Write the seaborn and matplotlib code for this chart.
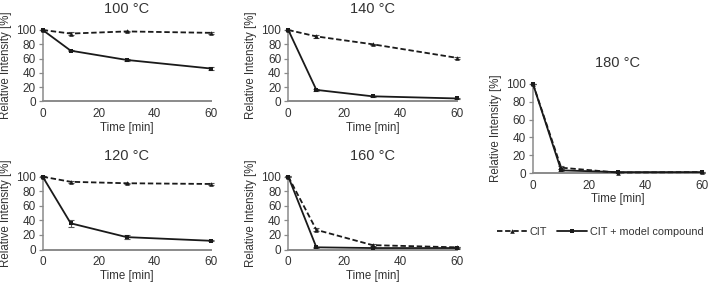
import numpy as np
import pandas as pd
import seaborn as sns
from matplotlib import pyplot as plt

# sampling times [min]
times = [0, 10, 30, 60]
series = ['CIT', 'CIT + model compound']
temps = ['100 °C', '120 °C', '140 °C', '160 °C', '180 °C']

# relative intensity [%]
cit = {
    '100 °C': [100, 95, 98, 96],
    '120 °C': [100, 93, 91, 90],
    '140 °C': [100, 91, 80, 61],
    '160 °C': [100, 27, 6, 3],
    '180 °C': [100, 6, 0.5, 1],
}
cit_err = {
    '100 °C': [0.5, 2, 1, 1],
    '120 °C': [0.5, 1, 1, 1],
    '140 °C': [0.5, 2, 1, 1],
    '160 °C': [0.5, 2, 1.5, 1],
    '180 °C': [0.5, 2, 0.5, 0.5],
}
cmp = {
    '100 °C': [100, 71, 58, 46],
    '120 °C': [100, 36, 17, 12],
    '140 °C': [100, 16, 7, 4],
    '160 °C': [100, 3, 2, 2],
    '180 °C': [100, 3, 1, 1],
}
cmp_err = {
    '100 °C': [0.5, 1, 1, 2.5],
    '120 °C': [0.5, 5, 2.5, 1],
    '140 °C': [0.5, 1.5, 1, 1],
    '160 °C': [0.5, 1, 1, 1],
    '180 °C': [0.5, 1, 0.5, 0.5],
}

rows = []
for t in temps:
    for i, x in enumerate(times):
        rows.append(dict(temp=t, time=x, series=series[0], value=cit[t][i], err=cit_err[t][i]))
        rows.append(dict(temp=t, time=x, series=series[1], value=cmp[t][i], err=cmp_err[t][i]))
df = pd.DataFrame(rows)

sns.set_style('white')
plt.rcParams['font.family'] = ['Liberation Sans', 'DejaVu Sans']

fig = plt.figure(figsize=(7.08, 2.86), dpi=100)
W, H = 708, 286
# pixel boxes: x0, x60, y100, y0
boxes = {
    '100 °C': (42.7, 210.7, 30, 101.3),
    '140 °C': (288.3, 456.7, 30, 101.3),
    '120 °C': (42.7, 210.7, 176.7, 249.5),
    '160 °C': (288.3, 456.7, 176.7, 249.5),
    '180 °C': (533, 702, 84, 173),
}

txt = '#333333'
line_col = '#1a1a1a'
axis_col = '#8a8a8a'
for t in temps:
    x0, x1, y1, y0 = boxes[t]
    ax = fig.add_axes([x0 / W, 1 - y0 / H, (x1 - x0) / W, (y0 - y1) / H])
    d = df[df.temp == t]
    sns.lineplot(data=d, x='time', y='value', style='series', hue='series',
                 palette={series[0]: line_col, series[1]: line_col},
                 dashes={series[0]: (3, 1.5), series[1]: ''},
                 markers={series[0]: '^', series[1]: 's'},
                 markersize=3.3, markeredgewidth=0, linewidth=1.3,
                 ax=ax, legend=(t == '180 °C'), clip_on=False, zorder=3)
    for s in series:
        ds = d[d.series == s]
        ax.errorbar(ds.time, ds.value, yerr=ds.err, fmt='none', ecolor='#555555',
                    elinewidth=0.8, capsize=2, capthick=0.8, clip_on=False, zorder=2)
    ax.set_xlim(0, 60)
    ax.set_ylim(0, 100)
    ax.set_xticks([0, 20, 40, 60])
    ax.set_yticks([0, 20, 40, 60, 80, 100])
    ax.set_title(t, fontsize=10.5, color=txt, pad=12)
    ax.set_xlabel('Time [min]', fontsize=8.3, color=txt, labelpad=1)
    ax.set_ylabel('Relative Intensity [%]', fontsize=8.3, color=txt, labelpad=3)
    ax.tick_params(axis='x', length=0, labelsize=8.5, colors=txt, pad=5)
    ax.tick_params(axis='y', length=3, width=0.9, labelsize=8.5, labelcolor=txt,
                   color=axis_col, left=True, pad=2)
    for sp in ['top', 'right']:
        ax.spines[sp].set_visible(False)
    ax.spines['left'].set_color(axis_col)
    ax.spines['left'].set_linewidth(1.1)
    ax.spines['bottom'].set_color(axis_col)
    ax.spines['bottom'].set_linewidth(1.4)
    ax.patch.set_alpha(0)
    if t == '180 °C':
        handles, labels = ax.get_legend_handles_labels()
        ax.get_legend().remove()
        fig.legend(handles, labels, loc='center', bbox_to_anchor=(600 / W, 1 - 232 / H),
                   ncol=2, frameon=False, fontsize=7.8, handlelength=2.8,
                   columnspacing=0.9, handletextpad=0.25, labelcolor=txt,
                   borderpad=0, borderaxespad=0)

fig.savefig('out.png', dpi=100)
